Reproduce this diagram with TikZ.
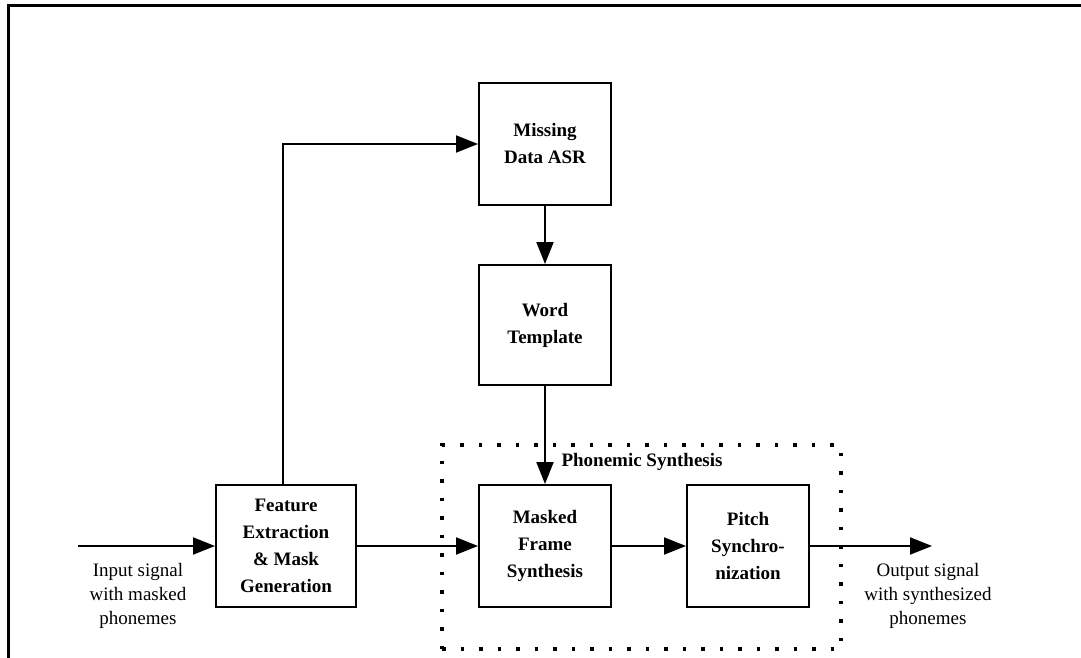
\documentclass[tikz,border=0pt]{standalone}
\usepackage{fontspec}
\setmainfont{Liberation Serif}
\usetikzlibrary{arrows.meta}
\begin{document}
\begin{tikzpicture}[x=1pt,y=-1pt,
  blk/.style={draw,line width=2pt,align=center,inner sep=0pt,
    font=\fontsize{19}{27}\selectfont\bfseries},
  lbl/.style={align=center,inner sep=0pt,font=\fontsize{19}{24}\selectfont},
  arr/.style={line width=2pt,-{Triangle[length=22pt,width=17pt]}},
  dotbox/.style={draw,line width=3.5pt,dash pattern=on 3.5pt off 15pt,inner sep=0pt}
]
\useasboundingbox (0,0) rectangle (1081,658);
% frame (top and left)
\coordinate (fa) at (1081,6);
\coordinate (fb) at (8,6);
\coordinate (fc) at (8,658);
\draw[line width=3pt] (fa) -- (fb) -- (fc);

% group box
\node[dotbox,minimum width=399pt,minimum height=204pt] (grp) at (641.5,547) {};
\node[inner sep=0pt,font=\fontsize{19}{24}\selectfont\bfseries] (grplbl) at (642,462) {Phonemic Synthesis};

% blocks
\node[blk,minimum width=132pt,minimum height=122pt] (mdasr) at (545,144) {Missing\\Data ASR};
\node[blk,minimum width=132pt,minimum height=120pt] (word) at (545,325) {Word\\Template};
\node[blk,minimum width=140pt,minimum height=122pt] (feat) at (286,546) {Feature\\Extraction\\\&~Mask\\Generation};
\node[blk,minimum width=132pt,minimum height=122pt] (mask) at (545,546) {Masked\\Frame\\Synthesis};
\node[blk,minimum width=122pt,minimum height=122pt] (pitch) at (748,546) {Pitch\\Synchro-\\nization};

% free ends
\coordinate (in) at (78,546);
\coordinate (out) at (932,546);
\coordinate (fb1) at (283,485);
\coordinate (fb2) at (283,144);

% labels
\node[lbl] (inlbl) at (138,596) {Input signal\\with masked\\phonemes};
\node[lbl] (outlbl) at (928,596) {Output signal\\with synthesized\\phonemes};

% connectors
\draw[arr] (in) -- (feat.west);
\draw[arr] (feat.east) -- (mask.west);
\draw[arr] (mask.east) -- (pitch.west);
\draw[arr] (pitch.east) -- (out);
\draw[arr] (fb1) -- (fb2) -- (mdasr.west);
\draw[arr] (mdasr.south) -- (word.north);
\draw[arr] (word.south) -- (mask.north);
\end{tikzpicture}
\end{document}
